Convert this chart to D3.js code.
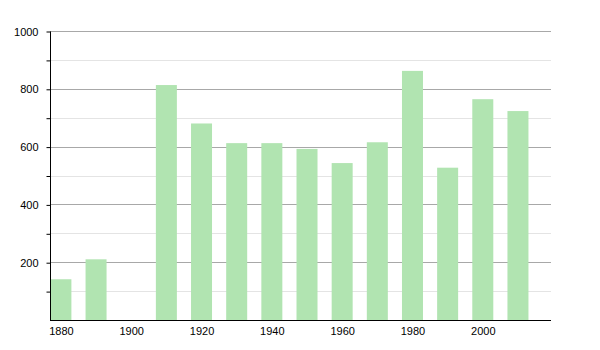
<!DOCTYPE html>
<html>
<head>
<meta charset="utf-8">
<script src="https://cdn.jsdelivr.net/npm/d3@7"></script>
<style>
  body { margin: 0; background: #fff; }
  text { font-family: "Liberation Sans", Arial, sans-serif; font-size: 11px; fill: #000; }
</style>
</head>
<body>
<svg id="SVG_CONTAINER" width="600" height="350"></svg>
<script>
// population by census year
const years  = [1880, 1890, 1910, 1920, 1930, 1940, 1950, 1960, 1970, 1980, 1990, 2000, 2010];
const values = [141, 210, 813, 680, 612, 612, 592, 543, 615, 862, 527, 764, 723];

const majorTicks = [200, 400, 600, 800, 1000];
const minorTicks = [100, 300, 500, 700, 900];
const xTicks = [1880, 1900, 1920, 1940, 1960, 1980, 2000];

const MARGIN = { LEFT: 50, RIGHT: 49, TOP: 31, BOTTOM: 30 };
const width = 600, height = 350;

let svg = d3.select("#SVG_CONTAINER");

let xScale = d3.scaleLinear()
    .domain([1876.9, 2019.4])
    .range([MARGIN.LEFT, width - MARGIN.RIGHT]);

let yScale = d3.scaleLinear()
    .domain([0, 1000])
    .range([height - MARGIN.BOTTOM, MARGIN.TOP]);

// soft edges on the bars
let defs = svg.append("defs");
defs.append("filter")
    .attr("id", "soft")
    .attr("x", "-20%").attr("y", "-5%")
    .attr("width", "140%").attr("height", "110%")
    .append("feGaussianBlur")
    .attr("stdDeviation", 0.7);

// gridlines
svg.append("g")
    .selectAll("line")
    .data(minorTicks)
    .enter()
    .append("line")
    .attr("x1", MARGIN.LEFT)
    .attr("x2", width - MARGIN.RIGHT)
    .attr("y1", d => Math.round(yScale(d)) + 0.5)
    .attr("y2", d => Math.round(yScale(d)) + 0.5)
    .style("stroke", "#e4e4e4");

svg.append("g")
    .selectAll("line")
    .data(majorTicks)
    .enter()
    .append("line")
    .attr("x1", MARGIN.LEFT)
    .attr("x2", width - MARGIN.RIGHT)
    .attr("y1", d => Math.round(yScale(d)) + 0.5)
    .attr("y2", d => Math.round(yScale(d)) + 0.5)
    .style("stroke", "#a8a8a8");

// bars
let barWidth = 21;
svg.append("g")
    .attr("filter", "url(#soft)")
    .selectAll("rect")
    .data(years)
    .enter()
    .append("rect")
    .attr("x", d => xScale(d) - barWidth / 2)
    .attr("y", (d, i) => yScale(values[i]))
    .attr("width", barWidth)
    .attr("height", (d, i) => yScale(0) - yScale(values[i]))
    .style("fill", "#b1e4b1");

// y axis
let yAxis = d3.axisLeft(yScale)
    .tickValues(majorTicks.concat(minorTicks))
    .tickSize(4)
    .tickFormat(d => majorTicks.includes(d) ? d : "");
let yG = svg.append("g")
    .attr("transform", "translate(" + (MARGIN.LEFT + 0.5) + ",0.5)")
    .call(yAxis);
yG.select(".domain").attr("d", "M0," + yScale(1000) + "V" + yScale(0)).style("stroke", "#000");
yG.selectAll("text").attr("x", -12).style("font-size", "11px").style("font-family", "Liberation Sans, Arial, sans-serif");
yG.selectAll("line").style("stroke", "#000");

// x axis
let xAxis = d3.axisBottom(xScale)
    .tickValues(xTicks)
    .tickSize(0)
    .tickFormat(d3.format("d"));
let xG = svg.append("g")
    .attr("transform", "translate(0," + (Math.round(yScale(0)) + 0.5) + ")")
    .call(xAxis);
xG.select(".domain").attr("d", "M" + MARGIN.LEFT + ",0H" + (width - MARGIN.RIGHT)).style("stroke", "#000");
xG.selectAll("text").attr("y", 7).style("font-size", "11px").style("font-family", "Liberation Sans, Arial, sans-serif");
</script>
</body>
</html>
